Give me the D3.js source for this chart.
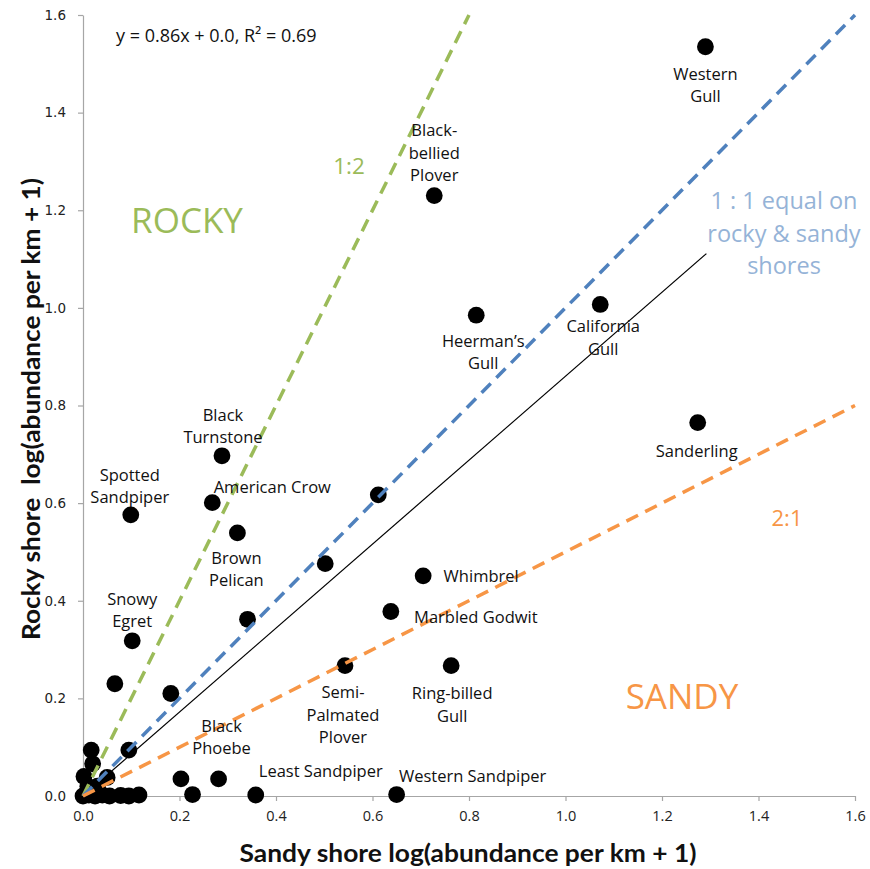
<!DOCTYPE html>
<html>
<head>
<meta charset="utf-8">
<script src="https://cdn.jsdelivr.net/npm/d3@7/dist/d3.min.js"></script>
<style>
  html, body { margin: 0; padding: 0; background: #fff; }
  svg { display: block; }
</style>
</head>
<body>
<svg id="chart" width="870" height="869"></svg>
<script>
// ---------- DATA ----------
const sandy = [1.290, 0.728, 1.072, 0.815, 1.274, 0.288, 0.268, 0.099, 0.320, 0.612, 0.502, 0.705, 0.638, 0.341, 0.102, 0.066, 0.182, 0.543, 0.763, 0.281, 0.358, 0.650, 0.203, 0.227, 0.017, 0.095, 0.020, 0.002, 0.050, 0.000, 0.012, 0.025, 0.040, 0.055, 0.078, 0.095, 0.116, 0.010, 0.030];
const rocky = [1.535, 1.230, 1.007, 0.985, 0.765, 0.697, 0.601, 0.576, 0.539, 0.617, 0.476, 0.451, 0.378, 0.362, 0.318, 0.230, 0.210, 0.267, 0.267, 0.035, 0.002, 0.003, 0.035, 0.003, 0.094, 0.094, 0.066, 0.040, 0.038, 0.000, 0.002, 0.000, 0.002, 0.000, 0.001, 0.000, 0.002, 0.020, 0.020];

const xTicks = [0.0, 0.2, 0.4, 0.6, 0.8, 1.0, 1.2, 1.4, 1.6];
const yTicks = [0.0, 0.2, 0.4, 0.6, 0.8, 1.0, 1.2, 1.4, 1.6];

// species label lines, index into data arrays
const labelText = [
  ["Western", "Gull"],
  ["Black-", "bellied", "Plover"],
  ["California", "Gull"],
  ["Heerman\u2019s", "Gull"],
  ["Sanderling"],
  ["Black", "Turnstone"],
  ["American Crow"],
  ["Spotted", "Sandpiper"],
  ["Brown", "Pelican"],
  ["Whimbrel"],
  ["Marbled Godwit"],
  ["Snowy", "Egret"],
  ["Semi-", "Palmated", "Plover"],
  ["Ring-billed", "Gull"],
  ["Black", "Phoebe"],
  ["Least Sandpiper"],
  ["Western Sandpiper"]
];
const labelIndex = [0, 1, 2, 3, 4, 5, 6, 7, 8, 11, 12, 14, 17, 18, 19, 20, 21];

// reference lines: slope (rocky = slope * sandy)
const refSlopes = [2, 1, 0.5];
const refNames = ["1:2", "1 : 1", "2:1"];
const trendSlope = 0.86, trendIntercept = 0.0;
const trendRange = [0.0, 1.292];
const equation = "y = 0.86x + 0.0, R\u00B2 = 0.69";

// ---------- STYLE / LAYOUT ----------
const W = 870, H = 869;
const x0 = 83, x1 = 855, y0 = 796, y1 = 15;
const refColors = ["#9BBB59", "#4F81BD", "#F79646"];
const labelFont = "'Open Sans', sans-serif";

// label placement (pixel offsets of first-line center relative to point)
const labelOffsets = [
  [0, 27], [0, -65], [3, 22], [7, 26], [-1, 29], [1, -41], [60, -15], [-1, -40], [-1, 25],
  [58, 0], [85, 6], [0, -42], [-2, 27], [1, 28], [3, -53], [65, -24], [76, -18]
];

const svg = d3.select("#chart");
const x = d3.scaleLinear().domain([0, 1.6]).range([x0, x1]);
const y = d3.scaleLinear().domain([0, 1.6]).range([y0, y1]);

// axes
const xAxis = d3.axisBottom(x).tickValues(xTicks).tickFormat(d3.format(".1f")).tickSize(5).tickSizeOuter(0);
const yAxis = d3.axisLeft(y).tickValues(yTicks).tickFormat(d3.format(".1f")).tickSize(5).tickSizeOuter(0);

const gx = svg.append("g").attr("transform", `translate(0,${y0})`).call(xAxis);
gx.select(".domain").attr("stroke", "#a6a6a6").attr("stroke-width", 1.2);
gx.selectAll(".tick line").attr("stroke", "#a6a6a6").attr("stroke-width", 1.2);
gx.selectAll(".tick text").attr("font-family", labelFont).attr("font-size", 14.5).attr("fill", "#222").attr("dy", "1.15em");

const gy = svg.append("g").attr("transform", `translate(${x0},0)`).call(yAxis);
gy.select(".domain").attr("stroke", "#a6a6a6").attr("stroke-width", 1.2);
gy.selectAll(".tick line").attr("stroke", "#a6a6a6").attr("stroke-width", 1.2);
gy.selectAll(".tick text").attr("font-family", "'DejaVu Sans', sans-serif").attr("font-size", 13.5).attr("fill", "#222").attr("x", -17);

// axis titles
svg.append("text")
  .attr("x", 468).attr("y", 862)
  .attr("text-anchor", "middle")
  .attr("font-family", "Lato, sans-serif").attr("font-weight", "bold").attr("font-size", 25)
  .attr("fill", "#111")
  .attr("textLength", 457).attr("lengthAdjust", "spacingAndGlyphs")
  .text("Sandy shore log(abundance per km + 1)");
svg.append("text")
  .attr("transform", "translate(40,409) rotate(-90)")
  .attr("text-anchor", "middle")
  .attr("font-family", "Lato, sans-serif").attr("font-weight", "bold").attr("font-size", 25)
  .attr("fill", "#111")
  .attr("textLength", 462).attr("lengthAdjust", "spacingAndGlyphs")
  .style("white-space", "pre")
  .text("Rocky shore  log(abundance per km + 1)");

// points
svg.append("g").selectAll("circle")
  .data(sandy.map((s, i) => [s, rocky[i]]))
  .join("circle")
  .attr("cx", d => x(d[0])).attr("cy", d => y(d[1]))
  .attr("r", 8.4).attr("fill", "#000");

// trend line
svg.append("line")
  .attr("x1", x(trendRange[0])).attr("y1", y(trendSlope * trendRange[0] + trendIntercept))
  .attr("x2", x(trendRange[1])).attr("y2", y(trendSlope * trendRange[1] + trendIntercept))
  .attr("stroke", "#000").attr("stroke-width", 1.2);

// reference dashed lines
refSlopes.forEach((m, i) => {
  const xe = Math.min(1.6, 1.6 / m);
  svg.append("line")
    .attr("x1", x(0)).attr("y1", y(0))
    .attr("x2", x(xe)).attr("y2", y(m * xe))
    .attr("stroke", refColors[i]).attr("stroke-width", 3.5)
    .attr("stroke-dasharray", "13,8");
});

// species labels
labelIndex.forEach((di, k) => {
  const px = x(sandy[di]) + labelOffsets[k][0];
  const py = y(rocky[di]) + labelOffsets[k][1];
  const t = svg.append("text")
    .attr("font-family", labelFont).attr("font-size", 16.5).attr("fill", "#111")
    .attr("text-anchor", "middle");
  labelText[k].forEach((line, j) => {
    t.append("tspan").attr("x", px).attr("y", py + j * 22.5).attr("dy", "0.35em").text(line);
  });
});

// equation
svg.append("text").attr("x", 116).attr("y", 36).attr("dy", "0.35em")
  .attr("font-family", labelFont).attr("font-size", 18).attr("fill", "#111")
  .text(equation);

// region annotations
svg.append("text").attr("x", 187).attr("y", 221).attr("dy", "0.35em").attr("text-anchor", "middle")
  .attr("font-family", labelFont).attr("font-size", 35).attr("fill", refColors[0]).text("ROCKY");
svg.append("text").attr("x", 682).attr("y", 697).attr("dy", "0.35em").attr("text-anchor", "middle")
  .attr("font-family", labelFont).attr("font-size", 35).attr("fill", refColors[2]).text("SANDY");
svg.append("text").attr("x", 349).attr("y", 166).attr("dy", "0.35em").attr("text-anchor", "middle")
  .attr("font-family", labelFont).attr("font-size", 22.5).attr("fill", refColors[0]).text(refNames[0]);
svg.append("text").attr("x", 787).attr("y", 518).attr("dy", "0.35em").attr("text-anchor", "middle")
  .attr("font-family", labelFont).attr("font-size", 22).attr("fill", refColors[2]).text(refNames[2]);
const oneOne = [refNames[1] + " equal on", "rocky & sandy", "shores"];
const t11 = svg.append("text").attr("text-anchor", "middle")
  .attr("font-family", labelFont).attr("font-size", 23.5).attr("fill", "#95B3D7");
oneOne.forEach((line, j) => {
  t11.append("tspan").attr("x", 784).attr("y", 201 + j * 32.5).attr("dy", "0.35em").text(line);
});
</script>
</body>
</html>
